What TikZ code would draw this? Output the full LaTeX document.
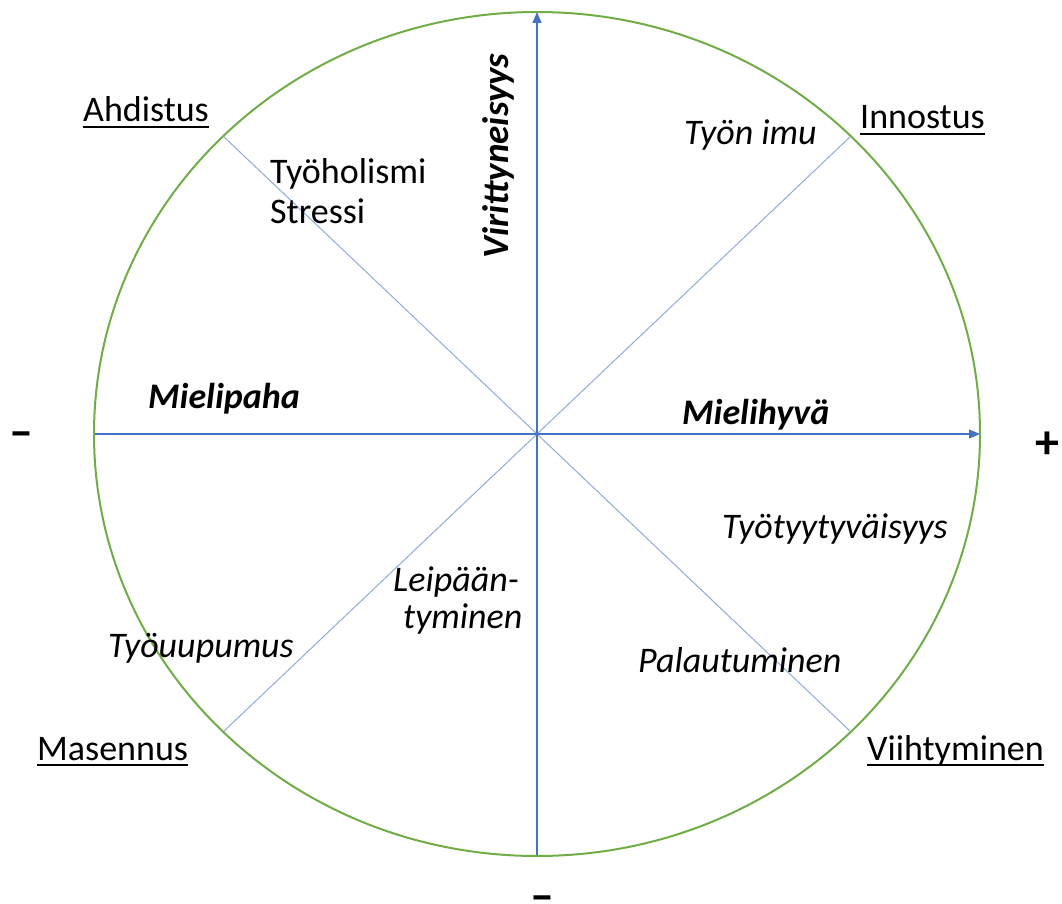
\documentclass[tikz,border=0pt]{standalone}
\usepackage{fontspec}
\setmainfont{Carlito}
\usetikzlibrary{arrows.meta}
\definecolor{ringgreen}{HTML}{70AD47}
\definecolor{axisblue}{HTML}{4472C4}
\definecolor{diagblue}{HTML}{8FAADC}
\begin{document}
\begin{tikzpicture}[x=1pt,y=-1pt,
  lbl/.style={anchor=base west,inner sep=0pt,font=\fontsize{36}{42}\selectfont},
  itl/.style={lbl,font=\fontsize{36}{42}\selectfont\itshape},
  bitl/.style={lbl,font=\fontsize{36}{42}\selectfont\bfseries\itshape},
  sign/.style={inner sep=0pt,font=\fontsize{48}{52}\selectfont\bfseries},
  ring/.style={draw=ringgreen,line width=2pt},
  axis/.style={draw=axisblue,line width=1.1pt,-{Triangle[length=11pt,width=9pt]}},
  diag/.style={draw=diagblue,line width=1pt},
  uline/.style={line width=2.4pt}]
\useasboundingbox (0,0) rectangle (1062,904);
\coordinate (c) at (537,434);
\coordinate (l) at (94,434);
\coordinate (r) at (980,434);
\coordinate (t) at (537,12);
\coordinate (b) at (537,856);
\coordinate (ul) at (223,136);
\coordinate (ur) at (851,136);
\coordinate (ll) at (223,732);
\coordinate (lr) at (851,732);
\draw[diag] (ul) -- (lr);
\draw[diag] (ll) -- (ur);
\draw[axis] (l) -- (r);
\draw[axis] (b) -- (t);
\draw[ring] (c) ellipse [x radius=443, y radius=422];
% corner labels
\node[lbl] (ahd) at (83,122) {Ahdistus};
\node[lbl] (inn) at (860,129) {Innostus};
\node[lbl] (mas) at (37,760) {Masennus};
\node[lbl] (vii) at (867,760) {Viihtyminen};
\foreach \n in {ahd,inn,mas,vii}
  \draw[uline] ([yshift=-5pt]\n.base west) -- ([yshift=-5pt]\n.base east);
% inside labels
\node[lbl] (tyh) at (270,183) {Työholismi};
\node[lbl] (str) at (270,223) {Stressi};
\node[itl] (imu) at (684,145) {Työn imu};
\node[bitl] (mp) at (148,408) {Mielipaha};
\node[bitl] (mh) at (682,424) {Mielihyvä};
\node[bitl,anchor=center,rotate=90,font=\fontsize{37}{42}\selectfont\bfseries\itshape] (vir) at (498,156) {Virittyneisyys};
\node[itl] (tty) at (722,538) {Työtyytyväisyys};
\node[itl] (pal) at (638,672) {Palautuminen};
\node[itl] (lei1) at (393,591) {Leipään-};
\node[itl] (lei2) at (403,628) {tyminen};
\node[itl] (tyu) at (108,657) {Työuupumus};
% signs
\node[sign,anchor=base] (mn1) at (21,447) {–};
\node[sign] (pl) at (1047,445) {+};
\node[sign,anchor=base] (mn2) at (542,911) {–};
\end{tikzpicture}
\end{document}
